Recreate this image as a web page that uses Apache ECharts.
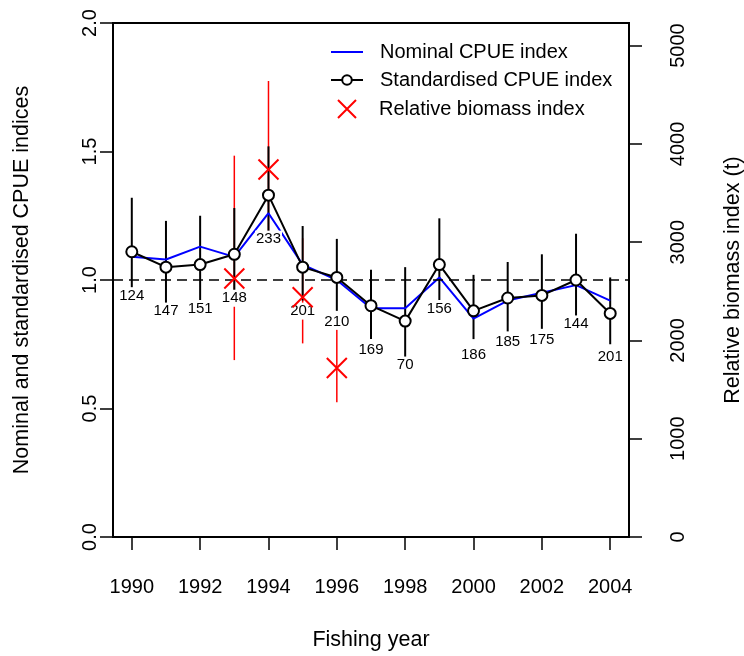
<!DOCTYPE html>
<html>
<head>
    <meta charset="utf-8">
    <script src="https://cdn.jsdelivr.net/npm/echarts@6.0.0/dist/echarts.min.js"></script>
    <style>
        html, body { margin: 0; padding: 0; background: #fff; }
        #chart { width: 744px; height: 656px; }
    </style>
</head>
<body>
<div id="chart"></div>
<script>
    const years = [1990, 1991, 1992, 1993, 1994, 1995, 1996, 1997, 1998, 1999, 2000, 2001, 2002, 2003, 2004]
    const nominal = [1.09, 1.08, 1.13, 1.09, 1.26, 1.06, 1.00, 0.89, 0.89, 1.01, 0.85, 0.92, 0.95, 0.98, 0.92]
    const standardised = [1.11, 1.05, 1.06, 1.10, 1.33, 1.05, 1.01, 0.90, 0.84, 1.06, 0.88, 0.93, 0.94, 1.00, 0.87]
    const stdUpper = [1.32, 1.23, 1.25, 1.28, 1.52, 1.21, 1.16, 1.04, 1.05, 1.24, 1.02, 1.07, 1.10, 1.18, 1.01]
    const stdLower = [0.93, 0.89, 0.90, 0.94, 1.17, 0.92, 0.88, 0.77, 0.68, 0.91, 0.77, 0.80, 0.81, 0.85, 0.75]
    const nSamples = [124, 147, 151, 148, 233, 201, 210, 169, 70, 156, 186, 185, 175, 144, 201]

    const biomassYears = [1993, 1994, 1995, 1996]
    const biomass = [2630, 3740, 2440, 1720]
    const biomassUpper = [3880, 4640, 3040, 2150]
    const biomassLower = [1800, 3010, 1970, 1370]

    const xTicks = [1990, 1992, 1994, 1996, 1998, 2000, 2002, 2004]
    const rightTicks = [0, 1000, 2000, 3000, 4000, 5000]

    const FONT = '"Liberation Sans", Arial, sans-serif'
    const LABEL_DROP = 0.171  // sample size labels sit below each point

    const chart = echarts.init(document.getElementById('chart'))

    function barItem(color, width) {
        return function(params, api) {
            const x = api.value(0)
            const p1 = api.coord([x, api.value(1)])
            const p2 = api.coord([x, api.value(2)])
            return {
                type: 'line',
                shape: { x1: p1[0], y1: p1[1], x2: p2[0], y2: p2[1] },
                style: { stroke: color, lineWidth: width }
            }
        }
    }

    const legendText = { fontSize: 20, lineHeight: 20, fontFamily: FONT, color: '#000', padding: [0, 0, 0, 12] }
    const titleText = { fontSize: 21.5, fontFamily: FONT, color: '#000' }

    const option = {
        animation: false,
        textStyle: { fontFamily: FONT, color: '#000' },
        grid: {
            left: 113, right: 115, top: 23, bottom: 119,
            outerBoundsMode: 'none',
            show: true, borderColor: '#000', borderWidth: 2
        },
        legend: [{
            orient: 'vertical',
            left: 330,
            top: 42,
            padding: 0,
            itemWidth: 32,
            itemHeight: 12,
            itemGap: 8,
            textStyle: legendText,
            data: [
                { name: 'Nominal CPUE index', itemStyle: { opacity: 0 } },
                'Standardised CPUE index'
            ]
        }, {
            orient: 'vertical',
            left: 337,
            top: 99,
            padding: 0,
            itemWidth: 32,
            itemHeight: 18,
            textStyle: Object.assign({}, legendText, { padding: [0, 0, 0, 11] }),
            data: ['Relative biomass index']
        }],
        xAxis: {
            type: 'value',
            min: 1989.45,
            max: 2004.55,
            name: 'Fishing year',
            nameLocation: 'middle',
            nameGap: 92,
            nameTextStyle: titleText,
            axisLine: { show: false },
            splitLine: { show: false },
            axisTick: { show: true, length: 13, lineStyle: { color: '#000', width: 1.5 }, customValues: xTicks },
            axisLabel: { fontSize: 20, color: '#000', margin: 40, customValues: xTicks, formatter: v => String(v) }
        },
        yAxis: [{
            type: 'value',
            min: 0,
            max: 2,
            interval: 0.5,
            name: 'Nominal and standardised CPUE indices',
            nameLocation: 'middle',
            nameGap: 80,
            nameTextStyle: titleText,
            axisLine: { show: false },
            splitLine: { show: false },
            axisTick: { show: true, length: 13, lineStyle: { color: '#000', width: 1.5 } },
            axisLabel: { fontSize: 20, color: '#000', rotate: 90, margin: 13, formatter: v => v.toFixed(1) }
        }, {
            type: 'value',
            min: 0,
            max: 5230,
            position: 'right',
            name: 'Relative biomass index (t)',
            nameLocation: 'middle',
            nameGap: 93,
            nameTextStyle: titleText,
            axisLine: { show: false },
            splitLine: { show: false },
            axisTick: { show: true, length: 13, lineStyle: { color: '#000', width: 1.5 }, customValues: rightTicks },
            axisLabel: { fontSize: 20, color: '#000', rotate: 90, margin: 39, customValues: rightTicks, formatter: v => String(v) }
        }],
        series: [{
            name: 'biomassBars',
            type: 'custom',
            yAxisIndex: 1,
            renderItem: barItem('#ff0000', 1.5),
            data: biomassYears.map((y, i) => [y, biomassLower[i], biomassUpper[i]]),
            z: 2
        }, {
            name: 'stdBars',
            type: 'custom',
            renderItem: barItem('#000', 2),
            data: years.map((y, i) => [y, stdLower[i], stdUpper[i]]),
            z: 3
        }, {
            name: 'Nominal CPUE index',
            type: 'line',
            symbol: 'none',
            lineStyle: { color: '#0000ff', width: 2 },
            itemStyle: { color: '#0000ff' },
            data: years.map((y, i) => [y, nominal[i]]),
            z: 4,
            markLine: {
                silent: true,
                symbol: 'none',
                label: { show: false },
                lineStyle: { color: '#000', width: 1.5, type: [10, 6] },
                data: [{ yAxis: 1 }]
            }
        }, {
            name: 'Standardised CPUE index',
            type: 'line',
            symbol: 'circle',
            symbolSize: 11,
            lineStyle: { color: '#000', width: 2 },
            itemStyle: { color: '#fff', borderColor: '#000', borderWidth: 2 },
            data: years.map((y, i) => [y, standardised[i]]),
            z: 5
        }, {
            name: 'labels',
            type: 'custom',
            renderItem: function(params, api) {
                const p = api.coord([api.value(0), api.value(1) - LABEL_DROP])
                return {
                    type: 'text',
                    x: p[0],
                    y: p[1],
                    style: {
                        text: String(api.value(2)),
                        fill: '#000',
                        font: '15px ' + FONT,
                        align: 'center',
                        verticalAlign: 'middle',
                        backgroundColor: '#fff',
                        padding: [1, 1]
                    }
                }
            },
            data: years.map((y, i) => [y, standardised[i], nSamples[i]]),
            z: 6
        }, {
            name: 'Relative biomass index',
            type: 'scatter',
            yAxisIndex: 1,
            symbol: 'path://M0 0L10 10M10 0L0 10',
            symbolSize: 20,
            itemStyle: { color: 'rgba(0,0,0,0)', borderColor: '#ff0000', borderWidth: 2, opacity: 1 },
            data: biomassYears.map((y, i) => [y, biomass[i]]),
            z: 7
        }]
    }
    chart.setOption(option)
</script>
</body>
</html>
